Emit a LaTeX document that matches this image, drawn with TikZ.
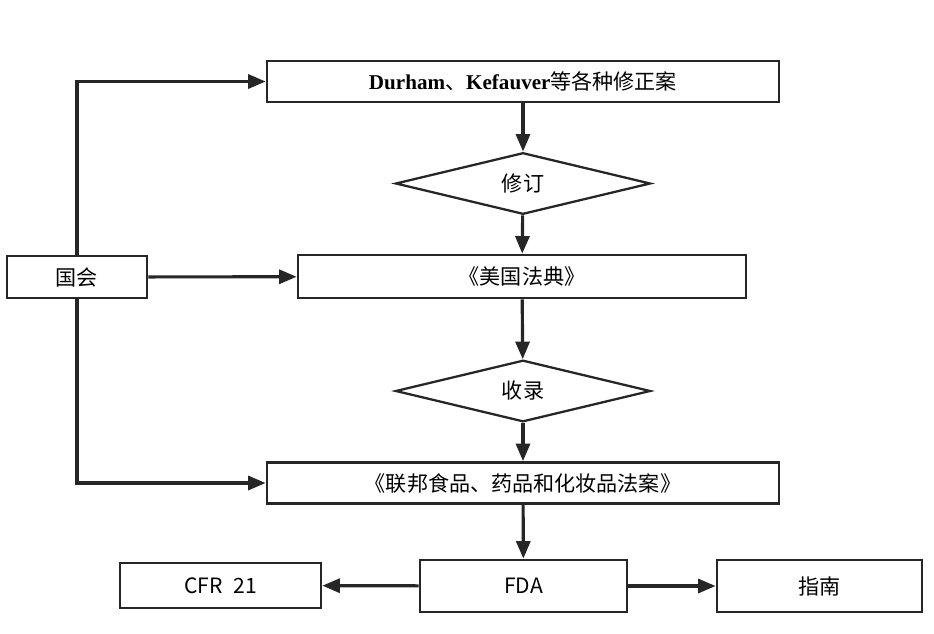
\documentclass[tikz,border=0pt]{standalone}
\usepackage{fontspec}
\setmainfont{Liberation Serif}
\newfontfamily\cjk{Noto Sans CJK SC}
\usetikzlibrary{shapes.geometric,arrows.meta}

\begin{document}
\begin{tikzpicture}[x=0.02cm,y=-0.02cm,
    box/.style={draw=black!85,line width=1.6pt,minimum height=0.82cm,inner sep=0pt,font=\cjk\large},
    dia/.style={draw=black!85,line width=1.3pt,diamond,inner sep=0pt,minimum width=5.1cm,minimum height=0.94cm,font=\cjk\large},
    flow/.style={draw=black!85,line width=1.8pt,-{Triangle[length=10pt,width=8pt]}}]
\useasboundingbox (0,0) rectangle (934,633);
% main column
\node [box,minimum width=10.24cm] (amend) at (523,81.5) {{\rmfamily\bfseries Durham}、{\rmfamily\bfseries Kefauver}等各种修正案};
\node [dia] (revise) at (523,183.5) {修订};
\node [box,minimum width=8.96cm,minimum height=0.86cm] (code) at (522,276.5) {《美国法典》};
\node [dia] (record) at (523,391) {收录};
\node [box,minimum width=10.24cm] (act) at (523,483) {《联邦食品、药品和化妆品法案》};
\node [box,minimum width=4.14cm,minimum height=1.04cm] (fda) at (523.5,586) {FDA};
\node [box,minimum width=4.02cm,minimum height=0.9cm] (cfr) at (220.5,585.5) {CFR\enspace 21};
\node [box,minimum width=4.1cm,minimum height=1.04cm] (guide) at (819.5,586) {指南};
\node [box,minimum width=2.8cm,minimum height=0.84cm] (congress) at (77,277) {国会};
% arrows
\draw [flow] (amend) -- (revise);
\draw [flow] (revise) -- (code);
\draw [flow] (code) -- (record);
\draw [flow] (record) -- (act);
\draw [flow] (act) -- (fda);
\draw [flow] (fda) -- (cfr);
\draw [flow] (fda) -- (guide);
\draw [flow] (congress) -- (code);
\draw [flow] (congress.north) |- (amend.west);
\draw [flow] (congress.south) |- (act.west);
\end{tikzpicture}
\end{document}
